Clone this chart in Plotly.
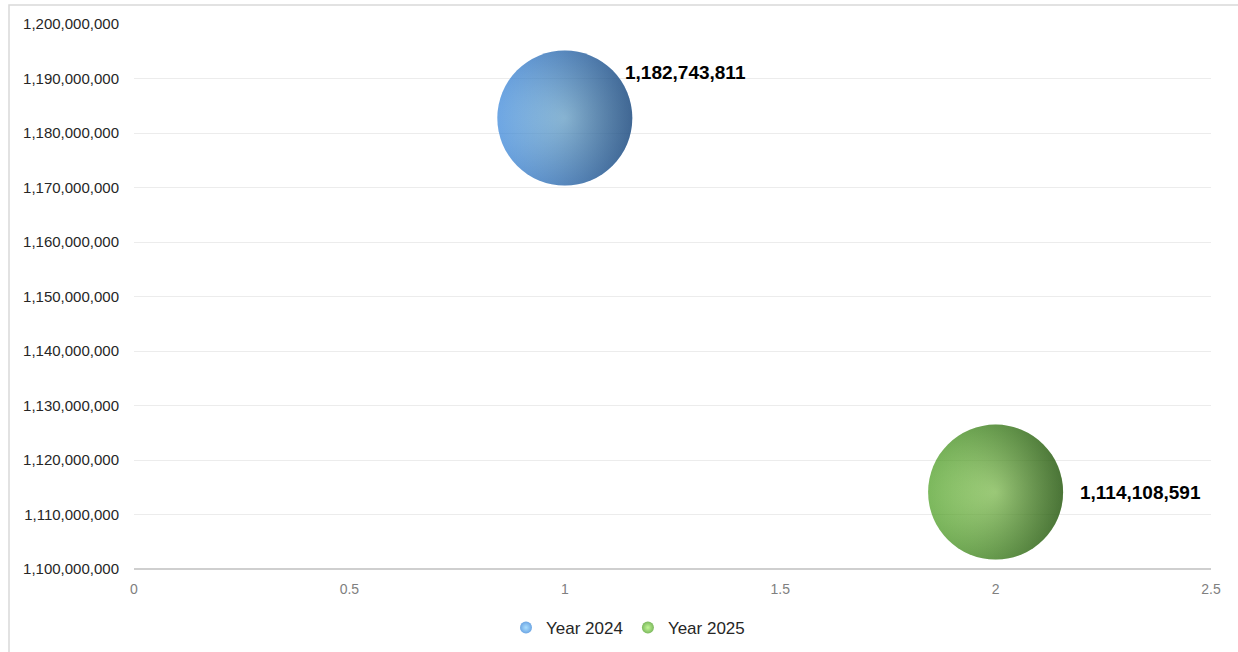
import plotly.graph_objects as go

# ---- data ----
series_names = ["Year 2024", "Year 2025"]
x_values = [1, 2]
y_values = [1182743811, 1114108591]
bubble_size = [1, 1]

# ---- styles ----
FONT = "Liberation Sans"
base_center = ["#86d0ff", "#a8f46a"]
base_edge = ["#2f80d8", "#449a18"]
shade_rgb = ["2,16,36", "6,22,2"]
label_shift = [(58, 46), (82, 0)]

W, H = 1238, 652
ML, MR, MT, MB = 134, 27, 24, 83
PW, PH = W - ML - MR, H - MT - MB

fig = go.Figure()
max_size = max(bubble_size)
for i, name in enumerate(series_names):
    common = dict(sizemode="diameter", sizeref=max_size / 135, line=dict(width=0))
    # base sphere (legend entry)
    fig.add_trace(go.Scatter(
        x=[x_values[i]], y=[y_values[i]], name=name, mode="markers",
        marker=dict(size=[bubble_size[i]], color=base_edge[i],
                    gradient=dict(type="radial", color=base_center[i]), **common),
        hoverinfo="skip",
    ))
    # horizontal shading overlay (dark towards the right edge)
    fig.add_trace(go.Scatter(
        x=[x_values[i]], y=[y_values[i]], mode="markers", showlegend=False,
        marker=dict(size=[bubble_size[i]], color=f"rgba({shade_rgb[i]},0)",
                    gradient=dict(type="horizontal", color=f"rgba({shade_rgb[i]},0.6)"),
                    **common),
        hoverinfo="skip",
    ))
    dx, dy = label_shift[i]
    fig.add_annotation(
        x=x_values[i], y=y_values[i], text=f"{y_values[i]:,}",
        showarrow=False, xanchor="left", yanchor="middle",
        xshift=dx, yshift=dy,
        font=dict(family=FONT, size=19, color="#000000", weight="bold"),
    )

# chart-area border
fig.add_shape(
    type="rect", xref="paper", yref="paper",
    x0=(9 - ML) / PW, x1=(W + 10 - ML) / PW,
    y0=(MT + PH - (H + 10)) / PH, y1=(MT + PH - 5) / PH,
    line=dict(color="#d9d9d9", width=1.5), fillcolor="rgba(0,0,0,0)", layer="below",
)

fig.update_layout(
    width=W, height=H,
    margin=dict(l=ML, r=MR, t=MT, b=MB, autoexpand=False),
    paper_bgcolor="white", plot_bgcolor="white",
    font=dict(family=FONT),
    showlegend=True,
    legend=dict(
        orientation="h", xref="container", yref="container",
        x=628 / W, xanchor="center",
        y=1 - 628 / H, yanchor="middle",
        font=dict(family=FONT, size=17, color="#262626"),
        itemsizing="constant", itemwidth=30,
        bgcolor="rgba(0,0,0,0)",
    ),
    xaxis=dict(
        range=[0, 2.5], dtick=0.5, tick0=0, showgrid=False, zeroline=False,
        showline=False, ticks="", ticklabelstandoff=10,
        tickfont=dict(family=FONT, size=14, color="#808080"),
    ),
    yaxis=dict(
        range=[1100000000, 1200000000], dtick=10000000, tickformat=",d",
        showgrid=True, gridcolor="#ececec", gridwidth=1,
        zeroline=False, showline=False, ticks="", ticklabelstandoff=14,
        tickfont=dict(family=FONT, size=15, color="#262626"),
    ),
)
# bottom axis line
fig.add_shape(type="line", xref="paper", yref="paper", x0=0, x1=1, y0=0, y1=0,
              line=dict(color="#bfbfbf", width=1.5))

fig.write_html("out.html", config={"displayModeBar": False},
               post_script="document.body.style.margin='0';")
